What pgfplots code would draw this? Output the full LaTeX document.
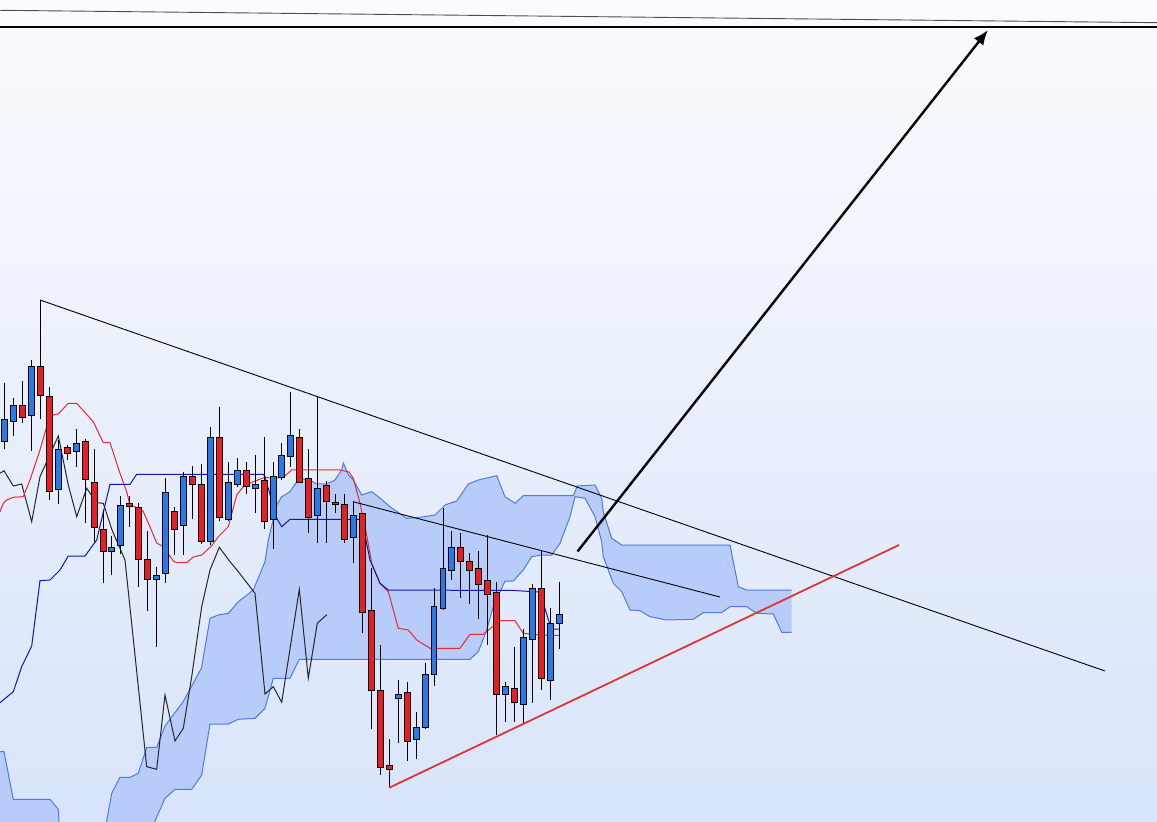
\documentclass[border=0pt]{standalone}
\usepackage{pgfplots}
\pgfplotsset{compat=1.18}
\usepackage{pgfplotstable}
\usepgfplotslibrary{fillbetween}
\usetikzlibrary{arrows.meta}

\definecolor{bgtop}{RGB}{250,251,254}
\definecolor{bgbot}{RGB}{216,228,250}
\definecolor{bear}{RGB}{232,30,36}
\definecolor{bull}{RGB}{40,122,232}
\definecolor{cloudfill}{RGB}{184,204,250}
\definecolor{cloudedge}{RGB}{80,122,228}
\definecolor{tenkan}{RGB}{230,40,50}
\definecolor{kijun}{RGB}{20,20,180}
\definecolor{trendred}{RGB}{222,52,56}

% candles, pixel coordinates (y grows downwards): body top/bottom, wick high/low
\pgfplotstableread{
x     top    bot    hi     lo
22.3  405.3  417.3  380.7  423.3
40.2  366.7  396.0  300.0  419.3
49.3  396.7  492.0  386.7  500.0
67.3  447.3  453.3  445.3  460.0
85.3  441.3  480.0  439.3  523.3
94.3  482.3  527.3  449.3  542.0
103.7 529.3  551.3  510.0  582.7
129.3 504.0  506.7  496.0  527.3
138.3 508.0  559.3  503.0  586.7
147.3 559.3  580.0  530.7  610.7
174.3 511.3  529.3  507.3  555.3
192.3 476.3  484.3  466.0  519.3
201.3 484.3  541.7  464.0  544.0
219.3 437.3  517.3  407.3  521.0
246.3 470.3  486.3  462.0  494.3
264.3 480.3  521.3  437.3  529.3
299.3 437.3  482.3  429.3  482.3
308.3 478.3  517.3  449.3  533.3
326.3 486.0  502.0  480.7  543.3
335.3 502.3  504.3  494.0  513.3
344.3 504.3  539.3  494.0  543.3
362.3 513.3  612.3  513.3  633.3
371.3 610.3  690.0  568.3  729.3
380.3 690.3  767.3  645.3  775.3
389.3 765.3  769.3  739.3  787.3
407.3 692.3  741.3  682.3  761.3
460.3 547.3  561.3  533.3  598.3
469.3 561.3  570.3  553.3  604.3
478.3 568.3  584.3  551.3  619.3
487.3 580.3  594.3  535.3  645.3
496.3 592.3  694.3  582.3  735.3
514.3 688.3  702.3  646.7  722.3
541.3 588.3  678.3  550.3  690.3
}\bearish

\pgfplotstableread{
x     top    bot    hi     lo
4.5   419.3  441.3  382.7  449.3
13.7  405.3  421.3  398.3  435.7
31.3  366.7  415.3  360.0  451.3
58.3  449.3  490.0  440.0  504.0
76.3  443.3  451.3  429.3  466.7
111.7 547.3  551.3  536.0  574.7
120.3 506.0  545.3  496.0  554.0
156.3 576.0  580.0  566.7  647.3
165.5 492.3  574.0  478.0  582.7
183.3 476.3  525.3  472.0  555.3
210.3 437.3  541.3  427.3  545.3
228.3 482.3  519.3  462.0  520.7
237.3 470.3  484.3  458.0  487.3
255.3 484.3  488.3  455.3  513.3
273.3 476.3  519.3  462.0  549.3
281.7 455.3  477.3  443.3  480.0
290.3 435.3  456.3  392.3  467.3
317.3 488.3  515.3  396.7  543.3
353.3 515.3  537.3  501.3  563.3
398.3 694.3  698.3  680.3  743.3
416.3 727.3  739.3  712.3  759.3
425.3 674.3  727.3  663.3  729.3
434.0 606.3  674.3  588.3  686.0
443.0 568.3  608.3  508.3  610.3
451.7 547.3  570.3  531.3  580.3
505.3 686.3  694.3  682.3  722.3
523.3 637.3  704.3  629.3  723.3
532.3 588.3  639.3  584.3  703.3
550.3 623.3  680.3  608.3  700.3
559.3 614.3  623.3  582.3  649.3
}\bullish

\pgfplotstableread{
x y
0 880
100 850
106.7 821
111.7 793.3
120 777.3
130 777.3
138.3 773.3
146.7 747.3
156.7 747.3
165 726
183.3 701.5
201.5 668
210 618.3
218.3 615
228.3 613.3
238.3 601.7
253.3 590
265 561.7
268.3 540
276.7 505
281.7 496.7
290 491.7
296.7 481.7
300 478.7
310 480
316.7 484
326.7 484
335 480
341.7 470
343.5 463
348.3 475
353.3 480
361.7 495
371.7 491.7
378.3 496.7
390 506.7
406.7 518.3
420 517.3
435 515
445 505
456.7 501
468.3 484
478.3 480
496.7 475.7
505 496.7
515 503.3
523.3 495.7
573.3 495.7
577.3 486
595 485
601.7 498.3
603.3 512
611.7 538.3
621.7 545
730 545
738.3 586.7
746.7 590
791.7 590
}\spanA

\pgfplotstableread{
x y
0 751.7
4 751.7
13.3 799.3
50 799.3
58.3 809.3
60 840
100 860
150 840
155 821
165 798.3
175 789.3
191.7 789.3
201.7 775
210 724
228.3 724
238.3 719.3
255 718.3
265 708.3
273.3 678.3
290 678.3
299.3 659.3
470 659.3
478.3 651.7
486.7 630
493.3 606.7
505 581
513.3 581
523.3 570
531.7 556.7
541.7 555
551.7 555
560 543.3
570 516.7
575 496.7
585 498.3
595 516.7
601.7 541.7
603.3 556.7
613.3 583.3
621.7 591.7
630 610
640 610.7
650 616.7
666.7 620
693.3 619.3
703.3 612.7
721.7 612.7
730 606.7
746.7 606.7
756.7 613.3
773.3 614
781.7 632.3
791.7 632.3
}\spanB

\begin{document}
\begin{tikzpicture}
\begin{axis}[
  scale only axis, width=1157bp, height=821bp,
  xmin=0, xmax=1157, ymin=0, ymax=821, y dir=reverse,
  axis line style={draw=none}, ticks=none,
  axis background/.style={top color=bgtop, bottom color=bgbot},
  clip=true,
]
% Ichimoku cloud
\addplot[draw=none, name path=sa] table {\spanA};
\addplot[draw=none, name path=sb] table {\spanB};
\addplot[cloudfill] fill between[of=sa and sb];
\addplot[cloudedge, line width=1bp] table {\spanA};
\addplot[cloudedge, line width=1bp] table {\spanB};

% chikou span
\addplot[black!85, line width=1bp] coordinates {
(0,473.3)(4,470.7)(13.3,486)(21.7,484)(31.7,521.7)(40,476.7)(58.3,436)
(68.3,485)(76.7,516.7)(86.7,488.3)(96.7,502.7)(103.3,503.3)(112,530)
(125,560)(146.7,766.7)(156.7,769.3)(165,695)(175,741)(183.3,728.3)
(191.7,676.7)(201.7,606.7)(210,570)(219.3,547.3)(230,561.7)(238.3,571.7)
(255,593.3)(265,694)(273.3,686.7)(281.7,702.3)(299.3,589.3)(308.3,678.3)
(317.3,623.3)(326.7,614.7)};

% tenkan-sen
\addplot[tenkan, line width=1bp] coordinates {
(0,511.7)(3.3,503.3)(6.7,500)(13.3,497.3)(23.3,496.7)(30,480)(40,450)
(46.7,426.7)(53.3,415)(58.3,414)(68.3,403.3)(76.7,403.3)(93.3,421.7)
(103.3,442.7)(110,442.7)(120,473.3)(126.7,491.7)(130,505.3)(140,508.5)
(143.3,511.7)(150,526.7)(156.7,543)(163.3,546.7)(173.3,561)(176.7,562.7)
(186.7,562.7)(193.3,557)(201.7,555)(211.7,545.7)(218.3,536.7)(228.3,526.7)
(236.7,495)(243.3,486.7)(253.3,481.7)(265,477.3)(273.3,478.3)(283.3,477.3)
(291.7,470)(340,470)(349,472)(353.3,478.3)(360,503.3)(366.7,535)
(371.7,563.3)(380,583.3)(388.3,591.7)(398.3,628.3)(408.3,630)(416.7,640)
(430,648.3)(460,648.3)(470,634.3)(483.3,634.3)(493.3,626)(500,620.7)
(515,620.7)(523.3,633.3)(541.7,635.3)(560,635.3)};

% kijun-sen
\addplot[kijun, line width=1bp] coordinates {
(0,702.7)(13.3,691.7)(21.7,666.7)(31.7,646)(40,580.7)(50,580)(60,570)
(68.3,556)(85,556)(96.7,540)(110,484.3)(130,484.3)(136.7,474.3)
(263.3,474.3)(265,476.7)(276.7,518.3)(281.7,526.7)(290,519.3)(361.7,519.3)
(370,560)(380,583.3)(388.3,590)(513.3,590.5)(540,592)(550,625)
(551.7,629)(560,629)};

% candles: wicks, body outline, body fill
\pgfplotsset{
  wick/.style={draw=none, mark=none, forget plot,
    error bars/.cd, y dir=both, y explicit, error mark=none,
    error bar style={draw=black, line width=1bp}},
  body/.style 2 args={draw=none, mark=none, forget plot,
    error bars/.cd, y dir=both, y explicit, error mark=none,
    error bar style={draw=#1, line width=#2}},
}
\addplot[wick] table[x=x, y expr=(\thisrow{hi}+\thisrow{lo})/2,
  y error expr=(\thisrow{lo}-\thisrow{hi})/2] {\bearish};
\addplot[wick] table[x=x, y expr=(\thisrow{hi}+\thisrow{lo})/2,
  y error expr=(\thisrow{lo}-\thisrow{hi})/2] {\bullish};
\addplot[body={black}{6.6bp}] table[x=x, y expr=(\thisrow{top}+\thisrow{bot})/2,
  y error expr=(\thisrow{bot}-\thisrow{top})/2+0.5] {\bearish};
\addplot[body={black}{6.6bp}] table[x=x, y expr=(\thisrow{top}+\thisrow{bot})/2,
  y error expr=(\thisrow{bot}-\thisrow{top})/2+0.5] {\bullish};
\addplot[body={bear}{4.6bp}] table[x=x, y expr=(\thisrow{top}+\thisrow{bot})/2,
  y error expr={max((\thisrow{bot}-\thisrow{top})/2-0.5,0.05)}] {\bearish};
\addplot[body={bull}{4.6bp}] table[x=x, y expr=(\thisrow{top}+\thisrow{bot})/2,
  y error expr={max((\thisrow{bot}-\thisrow{top})/2-0.5,0.05)}] {\bullish};

% trend lines
\addplot[black, line width=0.9bp] coordinates {(40,300)(1105,671)};
\addplot[black, line width=0.9bp] coordinates {(353,501.7)(720,597)};
\addplot[trendred, line width=1.8bp] coordinates {(389.3,787.7)(899,545)};
\addplot[black, line width=2.4bp, -{Latex[length=15bp, width=12bp]}] coordinates {(577.5,551.5)(988,30)};
\addplot[black!70, line width=0.9bp] coordinates {(0,10.3)(1157,22.7)};
\addplot[black, line width=2bp] coordinates {(0,26.7)(1157,26.7)};
\end{axis}
\end{tikzpicture}
\end{document}
